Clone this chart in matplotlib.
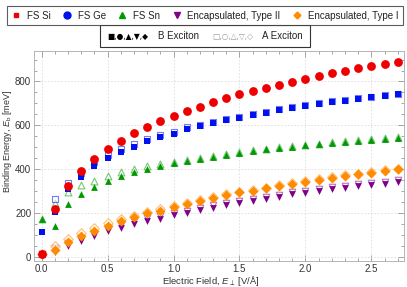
import matplotlib
matplotlib.use('Agg')
import matplotlib.pyplot as plt
from matplotlib.lines import Line2D
from matplotlib.patches import Rectangle
from matplotlib.ticker import MultipleLocator

plt.rcParams['font.family'] = ['Liberation Sans', 'DejaVu Sans']
plt.rcParams['mathtext.fontset'] = 'custom'
plt.rcParams['mathtext.it'] = 'Liberation Sans:italic'
plt.rcParams['mathtext.rm'] = 'Liberation Sans'

# electric field values [V/A]
field = [0.0, 0.1, 0.2, 0.3, 0.4, 0.5, 0.6, 0.7, 0.8, 0.9, 1.0, 1.1, 1.2, 1.3,
         1.4, 1.5, 1.6, 1.7, 1.8, 1.9, 2.0, 2.1, 2.2, 2.3, 2.4, 2.5, 2.6, 2.7]

# B exciton (filled markers)
si_b = [11, 219, 322, 392, 446, 492, 530, 563, 592, 618, 642, 665, 685, 706,
        723, 741, 757, 772, 785, 799, 811, 825, 837, 848, 860, 871, 880, 890]
ge_b = [111, 206, 309, 365, 414, 452, 479, 502, 527, 545, 562, 582, 595, 612,
        624, 635, 646, 658, 670, 678, 687, 699, 708, 712, 720, 728, 734, 741]
sn_b = [171, 140, 239, 288, 320, 347, 368, 385, 399, 414, 428, 437, 447, 457,
        466, 472, 483, 490, 498, 502, 509, 513, 519, 524, 530, 534, 539, 543]
t2_b = [11, 23, 50, 73, 96, 117, 130, 149, 163, 174, 189, 198, 212, 224,
        235, 247, 256, 265, 274, 286, 292, 300, 308, 314, 321, 329, 333, 341]
t1_b = [11, 31, 66, 95, 119, 140, 163, 180, 198, 210, 228, 241, 253, 269,
        283, 294, 301, 312, 323, 332, 341, 350, 361, 368, 376, 384, 391, 399]

# A exciton (open markers)
ge_a = [11, 262, 337, 380, 430, 462, 490, 513, 536, 555, 571, 590, 600, 617,
        629, 640, 651, 662, 674, 682, 691, 703, 711, 716, 724, 731, 737, 744]
sn_a = [171, 247, 297, 327, 347, 368, 385, 400, 414, 424, 434, 442, 452, 461,
        470, 476, 487, 493, 501, 505, 512, 516, 522, 527, 533, 537, 542, 546]
t2_a = [13, 40, 64, 86, 110, 130, 144, 162, 176, 187, 200, 209, 222, 234,
        245, 256, 265, 274, 283, 295, 301, 309, 317, 323, 330, 337, 341, 349]
t1_a = [13, 50, 79, 110, 131, 152, 171, 187, 204, 216, 233, 245, 257, 272,
        286, 297, 304, 315, 326, 335, 344, 353, 364, 371, 379, 387, 394, 402]

c_si = '#ee0000'
c_ge = '#0011ee'
c_sn = '#009a00'
c_t2 = '#800088'
c_t1 = '#ff8c00'

fig = plt.figure(figsize=(4.07, 2.87), dpi=100)
ax = fig.add_axes([0.0835, 0.0906, 0.909, 0.733])

# open markers (A exciton)
ax.scatter(field, t2_a, s=22, marker='v', facecolors='white', edgecolors=c_t2, linewidths=0.8, alpha=0.55, zorder=2)
ax.scatter(field, t1_a, s=24, marker='D', facecolors='white', edgecolors=c_t1, linewidths=0.8, alpha=0.55, zorder=2)
ax.scatter(field, sn_a, s=24, marker='^', facecolors='white', edgecolors=c_sn, linewidths=0.8, alpha=0.55, zorder=2)
ax.scatter(field, ge_a, s=20, marker='s', facecolors='white', edgecolors=c_ge, linewidths=0.8, alpha=0.55, zorder=2)

# filled markers (B exciton)
ax.scatter(field, t2_b, s=24, marker='v', color=c_t2, linewidths=0, zorder=3)
ax.scatter(field, t1_b, s=26, marker='D', color=c_t1, linewidths=0, zorder=3)
ax.scatter(field, sn_b, s=24, marker='^', color=c_sn, linewidths=0, zorder=3)
ax.scatter(field, ge_b, s=20, marker='s', color=c_ge, linewidths=0, zorder=4)
ax.scatter(field, si_b, s=40, marker='o', color=c_si, linewidths=0, zorder=5)

ax.set_xlim(-0.058, 2.747)
ax.set_ylim(-20, 941)
ax.xaxis.set_major_locator(MultipleLocator(0.5))
ax.xaxis.set_minor_locator(MultipleLocator(0.1))
ax.yaxis.set_major_locator(MultipleLocator(200))
ax.yaxis.set_minor_locator(MultipleLocator(50))
ax.tick_params(which='both', direction='in', top=True, right=True, color='#999999',
               labelsize=7, labelcolor='#333333', width=0.6, pad=2)
ax.tick_params(which='major', length=4)
ax.tick_params(which='minor', length=2)
ax.xaxis.set_major_formatter(plt.FuncFormatter(lambda v, p: '%.1f' % v))
ax.grid(True, which='major', linestyle=(0, (2, 2)), color='#dddddd', linewidth=0.6)
ax.set_axisbelow(True)
for sp in ax.spines.values():
    sp.set_color('#aaaaaa')
    sp.set_linewidth(0.6)

ax.set_xlabel(r'Electric Field, $E_\perp$ [V/Å]', fontsize=6.8, color='#333333', va='center')
ax.set_ylabel(r'Binding Energy, $E_\mathrm{b}$ [meV]', fontsize=6.5, color='#333333', va='center')
ax.xaxis.set_label_coords(0.478, -0.094)
ax.yaxis.set_label_coords(-0.071, 0.569)

# top legend with the marker symbols as shown in the original
handles = [
    Line2D([], [], ls='', marker='s', color=c_si, markersize=3.5),
    Line2D([], [], ls='', marker='o', color=c_ge, markersize=5),
    Line2D([], [], ls='', marker='^', color=c_sn, markersize=4),
    Line2D([], [], ls='', marker='v', color=c_t2, markersize=4),
    Line2D([], [], ls='', marker='D', color=c_t1, markersize=3.5),
]
labels = ['FS Si', 'FS Ge', 'FS Sn', 'Encapsulated, Type II', 'Encapsulated, Type I']
leg = fig.legend(handles, labels, loc='upper center', bbox_to_anchor=(0.503, 0.995), ncol=5,
                 fontsize=7, frameon=True, fancybox=False, handlelength=1.0, handletextpad=0.6,
                 columnspacing=1.2, borderpad=0.45, labelcolor='#222222')
leg.get_frame().set_edgecolor('#333333')
leg.get_frame().set_linewidth(0.8)

# second legend box: exciton symbols
fig.patches.append(Rectangle((100 / 407, 1 - 47 / 287), 210 / 407, 22 / 287,
                             transform=fig.transFigure, fill=False, edgecolor='#333333', linewidth=0.8))
fig.text(107 / 407, 1 - 36 / 287, '■,●,▲,▼,◆', fontsize=5.5, color='black', va='center',
         family=['DejaVu Sans'])
fig.text(158 / 407, 1 - 36 / 287, 'B Exciton', fontsize=7, color='#222222', va='center')
fig.text(212 / 407, 1 - 36 / 287, '□,○,△,▽,◇', fontsize=5.5, color='#999999', va='center',
         family=['DejaVu Sans'])
fig.text(262 / 407, 1 - 36 / 287, 'A Exciton', fontsize=7, color='#222222', va='center')

fig.savefig('out.png', dpi=100)
